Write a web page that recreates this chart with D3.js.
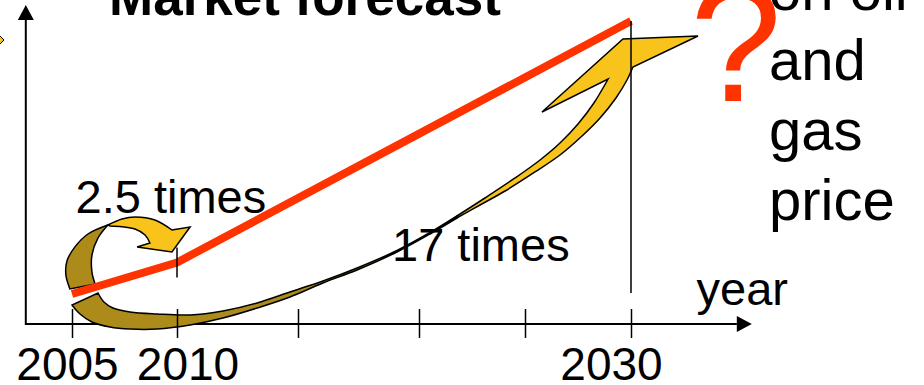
<!DOCTYPE html>
<html><head><meta charset="utf-8">
<script src="https://cdn.jsdelivr.net/npm/d3@7"></script>
<style>
html,body{margin:0;padding:0;background:#fff;overflow:hidden}
svg{display:block}
text{font-family:"Liberation Sans",Arial,Helvetica,sans-serif;fill:#000}
</style>
</head><body>
<svg id="chart" width="924" height="385"></svg>
<script>
// ---- data ----
const years = [2005, 2010, 2030];
const forecast = [10, 20.5, 101];          // schematic market index
const tickYears = [2005, 2010, 2015, 2020, 2025, 2030];
const labeledYears = [2005, 2010, 2030];
const titleText = "Market forecast";
const growthLabels = ["2.5 times", "17 times"];
const sideText = ["on oil", "and", "gas", "price"];
const axisLabel = "year";

// curved arrow outlines in data units [year, index]
const smallBackOuter = [[2004.90,11.7],[2004.71,16.3],[2004.76,21.0],[2005.14,25.7],[2005.76,30.0],[2006.71,33.0]];
const smallBackInner = [[2006.71,33.0],[2006.24,28.7],[2005.95,23.0],[2005.95,17.3],[2006.10,13.3]];
const smallFrontTop  = [[2006.71,33.0],[2007.38,35.0],[2008.0,35.67],[2008.95,34.67],[2009.76,31.33]];
const smallFrontHead = [[2009.76,31.33],[2010.54,32.33],[2009.76,24.0],[2008.10,25.67],[2008.71,27.0]];
const smallFrontInner= [[2008.71,27.0],[2008.48,29.67],[2008.0,31.67],[2007.38,32.43],[2006.81,32.67]];

const longBackOuter = [[2005.0,6.33],[2005.38,3.33],[2005.95,0.67],[2006.81,-1.0],[2007.76,-1.67],[2009.05,-1.67],
  [2010.54,-0.33],[2011.90,2.0],[2013.31,5.33],[2014.67,9.0],[2016.03,13.67],[2017.44,18.0],[2019.09,24.0],[2020.52,30.0],[2021.79,35.33]];
const longBackInner = [[2021.79,36.0],[2020.52,30.5],[2019.09,24.5],[2017.44,18.67],[2016.03,14.33],[2014.67,10.67],[2013.31,7.0],
  [2011.90,4.33],[2010.54,3.0],[2009.05,3.33],[2007.76,4.0],[2006.95,5.33],[2006.52,7.33],[2006.24,10.33]];
const longFrontUpper = [[2021.79,36.0],[2023.11,42.0],[2024.53,48.67],[2025.71,54.67],[2026.65,60.33],[2027.50,66.67],[2028.25,73.67],[2028.92,81.67]];
const longFrontHead  = [[2028.92,81.67],[2025.80,70.67],[2029.62,95.0],[2033.16,96.0],[2030.09,85.67]];
const longFrontLower = [[2030.09,85.67],[2029.81,81.33],[2029.29,75.33],[2028.54,68.67],[2027.69,62.67],[2026.65,56.33],
  [2025.47,50.67],[2024.06,44.33],[2022.88,39.67],[2021.79,35.33]];

const axisExtentX = [2002.8, 2035.7];
const axisExtentY = [0, 106.3];

// ---- scales ----
const x = d3.scaleLinear().domain([2005, 2010, 2020, 2030]).range([72, 177, 419, 631]);
const y = d3.scaleLinear().domain([0, 100]).range([324, 24]);

const RED = "#FF3300", YELLOW = "#F8C41C", GOLD = "#AD8B1B";
const svg = d3.select("#chart");

// small bullet diamond at the left edge (cut-off slide bullet)
svg.append("path").attr("d", "M-8,40L-2,34L4,40L-2,46Z")
  .attr("fill", YELLOW).attr("stroke", "#000").attr("stroke-width", 1);

// title
svg.append("text").attr("x", 109).attr("y", 15)
  .attr("font-size", 53).attr("font-weight", "bold").text(titleText);

// axes lines
const x0 = x(axisExtentX[0]), x1 = x(axisExtentX[1]);
const yb = y(axisExtentY[0]), yt = y(axisExtentY[1]);
svg.append("line").attr("x1", x0).attr("x2", x1 - 15).attr("y1", yb).attr("y2", yb)
  .attr("stroke", "#000").attr("stroke-width", 2);
svg.append("path").attr("d", `M${x1},${yb}L${x1-15},${yb-8}L${x1-15},${yb+8}Z`).attr("fill", "#000");
svg.append("line").attr("x1", x0).attr("x2", x0).attr("y1", yb + 1).attr("y2", yt + 15)
  .attr("stroke", "#000").attr("stroke-width", 2);
svg.append("path").attr("d", `M${x0},${yt}L${x0-8},${yt+15}L${x0+8},${yt+15}Z`).attr("fill", "#000");

// texts
svg.append("text").attr("x", 75.5).attr("y", 213).attr("font-size", 47).text(growthLabels[0]);
svg.append("text").attr("x", 392).attr("y", 261).attr("font-size", 47).text(growthLabels[1]);
svg.append("text").attr("x", 696.5).attr("y", 305).attr("font-size", 47).text(axisLabel);
svg.selectAll("text.side").data(sideText).join("text").attr("class", "side")
  .attr("x", 769).attr("y", (d, i) => 10 + i * 70).attr("font-size", 58).text(d => d);
svg.append("text").attr("x", 690).attr("y", 101).attr("font-size", 165)
  .style("fill", RED).text("?");

// arrows
const edge = (pts, curve) => d3.line().x(d => x(d[0])).y(d => y(d[1])).curve(curve)(pts);
const shape = segs => segs.map((s, i) => { const p = edge(s[0], s[1]); return i ? p.replace(/^M/, "L") : p; }).join("") + "Z";
const cr = d3.curveCatmullRom, lin = d3.curveLinear;
const arrows = svg.append("g").attr("stroke", "#000").attr("stroke-width", 1.5).attr("stroke-linejoin", "miter");
arrows.append("path").attr("fill", GOLD).attr("d", shape([[longBackOuter, cr], [longBackInner, cr]]));
arrows.append("path").attr("fill", YELLOW).attr("d", shape([[longFrontUpper, cr], [longFrontHead, lin], [longFrontLower, cr]]));
arrows.append("path").attr("fill", GOLD).attr("d", shape([[smallBackOuter, cr], [smallBackInner, cr]]));
arrows.append("path").attr("fill", YELLOW).attr("d", shape([[smallFrontTop, cr], [smallFrontHead, lin], [smallFrontInner, cr]]));

// ticks
const axis = d3.axisBottom(x).tickValues(tickYears).tickSize(14).tickFormat("");
const gA = svg.append("g").attr("transform", `translate(0,${yb})`).call(axis);
gA.select(".domain").remove();
gA.selectAll(".tick line").attr("y1", -15).attr("y2", 14).attr("stroke", "#000").attr("stroke-width", 1.5);

// year labels
const nudge = {2005: -4.5, 2010: 11, 2030: -19.5};
svg.selectAll("text.yr").data(labeledYears).join("text").attr("class", "yr")
  .attr("x", d => x(d) + nudge[d]).attr("y", 380).attr("text-anchor", "middle")
  .attr("font-size", 46).text(d => d);

// forecast line
const pts = years.map((yr, i) => [yr, forecast[i]]);
svg.append("path").attr("d", d3.line().x(d => x(d[0])).y(d => y(d[1]))(pts))
  .attr("fill", "none").attr("stroke", RED).attr("stroke-width", 8).attr("stroke-linejoin", "miter");

// drop lines at 2010 and 2030
svg.append("line").attr("x1", x(2010)).attr("x2", x(2010)).attr("y1", y(forecast[1] + 5)).attr("y2", y(forecast[1] - 5))
  .attr("stroke", "#000").attr("stroke-width", 1.5);
svg.append("line").attr("x1", x(2030)).attr("x2", x(2030)).attr("y1", y(forecast[2])).attr("y2", y(10.3))
  .attr("stroke", "#000").attr("stroke-width", 1.5);
</script>
</body></html>
